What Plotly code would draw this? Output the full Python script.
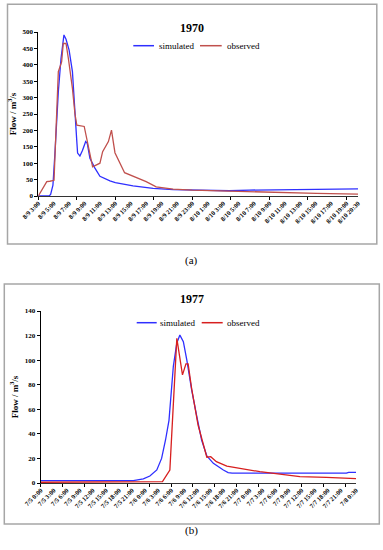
import plotly.graph_objects as go

# ---------------- data (a) 1970, hours since 8/9 0:00 ----------------
sim70_h = [3, 4.4, 4.6, 4.9, 5.17, 5.6, 5.95, 6.2, 6.33, 6.6, 7.0, 7.43, 7.73, 8.0, 8.1, 8.4,
           8.73, 9.15, 9.35, 9.7, 10.35, 11, 12.3, 13, 15.3, 17.9, 20.5, 23, 27.8, 30.4, 34.7, 41, 44.5]
sim70_q = [0, 0, 5, 33, 135, 318, 420, 475, 491, 478, 445, 379, 247, 166, 131, 122,
           139, 166, 161, 115, 85, 60, 46, 41, 31, 23, 19.5, 18, 16, 18, 19, 22, 22]
obs70_h = [3, 4.1, 4.5, 5.04, 5.6, 6.03, 6.24, 6.6, 6.9, 7.43, 7.76, 8.0, 8.96, 10.05, 11, 11.35,
           12.1, 12.5, 12.95, 14.2, 17.0, 18.3, 20.5, 23, 27.8, 30.4, 34.7, 39.1, 44.5]
obs70_q = [0, 44, 45, 48, 379, 409, 465, 465, 420, 328, 250, 216, 212, 89, 100, 135,
           166, 201, 132, 71, 44, 28, 21, 18, 15, 13, 10, 8, 6]
ticks70_v = [3, 5, 7, 9, 11, 13, 15, 17, 19, 21, 23, 25, 27, 29, 31, 33, 35, 37, 39, 41, 43, 44.5]
ticks70_t = ["8/9 3:00", "8/9 5:00", "8/9 7:00", "8/9 9:00", "8/9 11:00", "8/9 13:00", "8/9 15:00",
             "8/9 17:00", "8/9 19:00", "8/9 21:00", "8/9 23:00", "8/10 1:00", "8/10 3:00", "8/10 5:00",
             "8/10 7:00", "8/10 9:00", "8/10 11:00", "8/10 13:00", "8/10 15:00", "8/10 17:00",
             "8/10 19:00", "8/10 20:30"]

# ---------------- data (b) 1977, hours since 7/5 0:00 ----------------
sim77_h = [0, 21.3, 23.6, 25.1, 26.7, 27.8, 28.7, 29.5, 30.5, 31.3, 32.0, 32.8, 33.6, 34.7, 35.9,
           37.0, 38.2, 39.7, 42, 43.1, 44, 70.3, 70.8, 72.5]
sim77_q = [2, 2, 3.3, 5.7, 10.6, 20, 35, 51, 95, 114, 120.4, 115, 100, 76, 54,
           35, 22, 16, 10.6, 8.5, 8, 8, 8.7, 8.7]
obs77_h = [0, 20, 21, 28.0, 29.7, 31.3, 32.6, 33.4, 33.9, 34.7, 36.2, 38.2, 39.1, 40.4, 42.8,
           45.8, 50.4, 55, 59.6, 65.7, 72.5]
obs77_q = [0.6, 0.6, 1.1, 1.1, 10.6, 117.7, 88, 97, 97, 77, 47, 21, 21.4, 17.4, 13.8,
           12, 9.2, 7.3, 5.2, 4.6, 3.5]
ticks77_v = [0, 3, 6, 9, 12, 15, 18, 21, 24, 27, 30, 33, 36, 39, 42, 45, 48, 51, 54, 57, 60, 63, 66, 69, 72.5]
ticks77_t = ["7/5 0:00", "7/5 3:00", "7/5 6:00", "7/5 9:00", "7/5 12:00", "7/5 15:00", "7/5 18:00",
             "7/5 21:00", "7/6 0:00", "7/6 3:00", "7/6 6:00", "7/6 9:00", "7/6 12:00", "7/6 15:00",
             "7/6 18:00", "7/6 21:00", "7/7 0:00", "7/7 3:00", "7/7 6:00", "7/7 9:00", "7/7 12:00",
             "7/7 15:00", "7/7 18:00", "7/7 21:00", "7/8 0:30"]

series_names = ["simulated", "observed"]

SERIF = "Liberation Serif, Times New Roman, serif"
BLUE = "#2f2fff"
RED_A = "#c0504d"
RED_B = "#d71f1f"
W, H = 383, 550

fig = go.Figure()
fig.add_trace(go.Scatter(x=sim70_h, y=sim70_q, mode="lines", name=series_names[0],
                         line=dict(color=BLUE, width=1.3), xaxis="x", yaxis="y"))
fig.add_trace(go.Scatter(x=obs70_h, y=obs70_q, mode="lines", name=series_names[1],
                         line=dict(color=RED_A, width=1.3), xaxis="x", yaxis="y"))
fig.add_trace(go.Scatter(x=sim77_h, y=sim77_q, mode="lines", name=series_names[0],
                         line=dict(color=BLUE, width=1.3), xaxis="x2", yaxis="y2"))
fig.add_trace(go.Scatter(x=obs77_h, y=obs77_q, mode="lines", name=series_names[1],
                         line=dict(color=RED_B, width=1.3), xaxis="x2", yaxis="y2"))


def px_x(p):
    return p / W


def px_y(p):
    return (H - p) / H


def xaxis_cfg(dom, rng, tv, tt, minor_vals, anchor):
    return dict(domain=dom, range=rng, anchor=anchor, automargin=False,
                tickmode="array", tickvals=tv, ticktext=tt,
                tickangle=-45, tickfont=dict(family=SERIF, size=6.5, color="black", weight="bold"),
                ticks="outside", ticklen=0,
                minor=dict(tickmode="array", tickvals=minor_vals, ticks="outside", ticklen=3,
                           tickcolor="black", showgrid=False),
                showline=True, linecolor="#333333", linewidth=1.2, showgrid=False, zeroline=False)


def yaxis_cfg(dom, rng, dt, anchor):
    return dict(domain=dom, range=rng, anchor=anchor, dtick=dt, tick0=0, automargin=False,
                tickfont=dict(family=SERIF, size=7, color="black", weight="bold"),
                ticks="outside", ticklen=3, tickcolor="black",
                showline=True, linecolor="black", linewidth=1, showgrid=False, zeroline=False,
                title=dict(text="Flow / m<sup>3</sup>/s", standoff=4,
                           font=dict(family=SERIF, size=9, color="black", weight="bold")))


# hand-drawn legends (Excel style: short line + label), positioned inside each chart
legend_items = [
    # (line x0, line x1, text x, y, color, label)
    (133.3, 154.0, 157.0, 45.7, BLUE, series_names[0]),
    (200.0, 221.7, 225.3, 45.7, RED_A, series_names[1]),
    (136.7, 156.7, 158.3, 322.7, BLUE, series_names[0]),
    (201.7, 222.7, 225.0, 322.7, RED_B, series_names[1]),
]
legend_shapes = []
legend_annots = []
for x0, x1, tx, yy, col, lab in legend_items:
    legend_shapes.append(dict(type="line", xref="paper", yref="paper", x0=px_x(x0), x1=px_x(x1),
                              y0=px_y(yy), y1=px_y(yy), line=dict(color=col, width=1.5)))
    legend_annots.append(dict(text=lab, xref="paper", yref="paper", x=px_x(tx), y=px_y(yy),
                              xanchor="left", yanchor="middle", showarrow=False,
                              font=dict(family=SERIF, size=9, color="black")))

fig.update_layout(
    width=W, height=H, margin=dict(l=0, r=0, t=0, b=0, autoexpand=False),
    paper_bgcolor="white", plot_bgcolor="white", showlegend=False,
    xaxis=xaxis_cfg([px_x(38.3), px_x(358)], [3, 44.5], ticks70_v, ticks70_t,
                    list(range(3, 45, 5)), "y"),
    yaxis=yaxis_cfg([px_y(196), px_y(32)], [0, 500], 50, "x"),
    xaxis2=xaxis_cfg([px_x(40.7), px_x(356)], [0, 72.5], ticks77_v, ticks77_t,
                     list(range(0, 73, 5)), "y2"),
    yaxis2=yaxis_cfg([px_y(483), px_y(311)], [0, 140], 20, "x2"),
    shapes=[
        dict(type="rect", xref="paper", yref="paper", x0=px_x(7.5), x1=px_x(376.8),
             y0=px_y(244), y1=px_y(4.3), line=dict(color="#a6a6a6", width=1.5)),
        dict(type="rect", xref="paper", yref="paper", x0=px_x(4.3), x1=px_x(379.3),
             y0=px_y(524), y1=px_y(284), line=dict(color="#a6a6a6", width=1.5)),
    ] + legend_shapes,
    annotations=[
        dict(text="<b>1970</b>", xref="paper", yref="paper", x=px_x(191.7), y=px_y(19),
             showarrow=False, font=dict(family=SERIF, size=12, color="black")),
        dict(text="<b>1977</b>", xref="paper", yref="paper", x=px_x(191.7), y=px_y(299.3),
             showarrow=False, font=dict(family=SERIF, size=12, color="black")),
        dict(text="(a)", xref="paper", yref="paper", x=px_x(191.5), y=px_y(261),
             showarrow=False, font=dict(family=SERIF, size=11, color="black")),
        dict(text="(b)", xref="paper", yref="paper", x=px_x(191.5), y=px_y(539),
             showarrow=False, font=dict(family=SERIF, size=11, color="black")),
    ] + legend_annots,
)

fig.write_html("out.html", config={"displayModeBar": False},
               post_script="document.body.style.margin='0px';document.body.style.overflow='hidden';")
